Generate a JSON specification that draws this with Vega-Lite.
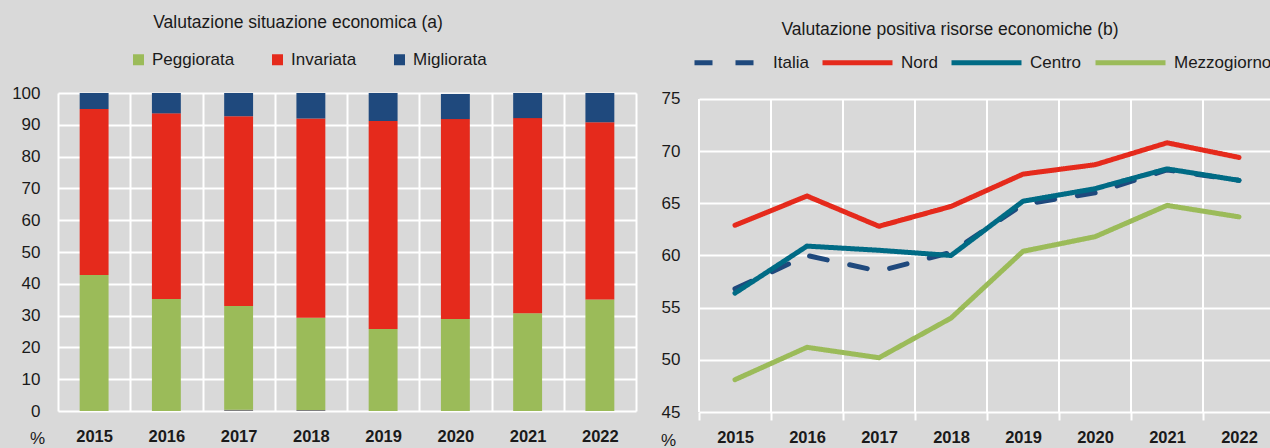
{
  "$schema": "https://vega.github.io/schema/vega-lite/v6.json",
  "background": "#d9d9d9",
  "padding": {"left": 11, "top": 13, "right": 0, "bottom": 0},
  "spacing": 24,
  "resolve": {
    "scale": {"color": "independent", "strokeDash": "independent", "x": "independent", "y": "independent"},
    "legend": {"color": "independent", "strokeDash": "independent"}
  },
  "config": {
    "view": {"stroke": null},
    "font": "Liberation Sans",
    "axis": {
      "labelFont": "Liberation Sans",
      "titleFont": "Liberation Sans",
      "labelColor": "#1a1a1a",
      "titleColor": "#1a1a1a",
      "labelFontSize": 17,
      "titleFontSize": 17,
      "titleFontWeight": "normal",
      "gridColor": "#ffffff",
      "gridWidth": 2,
      "gridOpacity": 1,
      "domain": false,
      "ticks": false
    },
    "legend": {
      "labelFont": "Liberation Sans",
      "labelFontSize": 17,
      "labelColor": "#1a1a1a",
      "labelLimit": 300
    },
    "title": {
      "font": "Liberation Sans",
      "fontSize": 17.5,
      "fontWeight": "normal",
      "color": "#1a1a1a"
    }
  },
  "hconcat": [
    {
      "width": 578,
      "height": 318,
      "title": {"text": "Valutazione situazione economica (a)", "anchor": "middle", "dx": -49, "offset": 20},
      "data": {
        "values": [
          {"anno": "2015", "categoria": "Peggiorata", "valore": 42.8, "ordine": 1},
          {"anno": "2015", "categoria": "Invariata", "valore": 52.2, "ordine": 2},
          {"anno": "2015", "categoria": "Migliorata", "valore": 5.0, "ordine": 3},
          {"anno": "2016", "categoria": "Peggiorata", "valore": 35.2, "ordine": 1},
          {"anno": "2016", "categoria": "Invariata", "valore": 58.4, "ordine": 2},
          {"anno": "2016", "categoria": "Migliorata", "valore": 6.4, "ordine": 3},
          {"anno": "2017", "categoria": "Non indicato", "valore": 0.4, "ordine": 0},
          {"anno": "2017", "categoria": "Peggiorata", "valore": 32.6, "ordine": 1},
          {"anno": "2017", "categoria": "Invariata", "valore": 59.7, "ordine": 2},
          {"anno": "2017", "categoria": "Migliorata", "valore": 7.3, "ordine": 3},
          {"anno": "2018", "categoria": "Non indicato", "valore": 0.3, "ordine": 0},
          {"anno": "2018", "categoria": "Peggiorata", "valore": 29.0, "ordine": 1},
          {"anno": "2018", "categoria": "Invariata", "valore": 62.7, "ordine": 2},
          {"anno": "2018", "categoria": "Migliorata", "valore": 8.0, "ordine": 3},
          {"anno": "2019", "categoria": "Peggiorata", "valore": 25.8, "ordine": 1},
          {"anno": "2019", "categoria": "Invariata", "valore": 65.4, "ordine": 2},
          {"anno": "2019", "categoria": "Migliorata", "valore": 8.8, "ordine": 3},
          {"anno": "2020", "categoria": "Peggiorata", "valore": 28.9, "ordine": 1},
          {"anno": "2020", "categoria": "Invariata", "valore": 62.9, "ordine": 2},
          {"anno": "2020", "categoria": "Migliorata", "valore": 7.9, "ordine": 3},
          {"anno": "2021", "categoria": "Peggiorata", "valore": 30.7, "ordine": 1},
          {"anno": "2021", "categoria": "Invariata", "valore": 61.4, "ordine": 2},
          {"anno": "2021", "categoria": "Migliorata", "valore": 7.9, "ordine": 3},
          {"anno": "2022", "categoria": "Peggiorata", "valore": 35.1, "ordine": 1},
          {"anno": "2022", "categoria": "Invariata", "valore": 55.7, "ordine": 2},
          {"anno": "2022", "categoria": "Migliorata", "valore": 9.2, "ordine": 3}
        ]
      },
      "mark": {"type": "bar", "width": {"band": 0.4}},
      "encoding": {
        "x": {
          "field": "anno",
          "type": "ordinal",
          "scale": {"paddingInner": 0, "paddingOuter": 0},
          "axis": {"title": null, "labelAngle": 0, "labelFontWeight": "bold", "labelFontSize": 16.5, "labelPadding": 17, "grid": true, "tickBand": "extent"}
        },
        "y": {
          "field": "valore",
          "type": "quantitative",
          "stack": "zero",
          "scale": {"domain": [0, 100], "nice": false},
          "axis": {"values": [0, 10, 20, 30, 40, 50, 60, 70, 80, 90, 100], "grid": true, "labelPadding": 18, "title": "%", "titleAngle": 0, "titleAlign": "center", "titleBaseline": "alphabetic", "titleX": -21, "titleY": 350}
        },
        "color": {
          "field": "categoria",
          "type": "nominal",
          "scale": {"domain": ["Non indicato", "Peggiorata", "Invariata", "Migliorata"], "range": ["#7f7f7f", "#9bbb59", "#e52a1c", "#1f497d"]},
          "legend": {"title": null, "values": ["Peggiorata", "Invariata", "Migliorata"], "orient": "none", "legendX": 72, "legendY": -42, "direction": "horizontal", "columns": 3, "symbolType": "square", "symbolSize": 121, "symbolStrokeWidth": 0, "labelOffset": 5, "columnPadding": 34}
        },
        "order": {"field": "ordine", "type": "quantitative"}
      }
    },
    {
      "width": 576,
      "height": 319,
      "title": {"text": "Valutazione positiva risorse economiche (b)", "anchor": "middle", "dx": -37, "offset": -13},
      "layer": [
        {
          "data": {
            "values": [
              {"anno": "2015"}, {"anno": "2016"}, {"anno": "2017"}, {"anno": "2018"},
              {"anno": "2019"}, {"anno": "2020"}, {"anno": "2021"}, {"anno": "2022"}
            ]
          },
          "mark": {"type": "rule", "color": "#ffffff", "strokeWidth": 2},
          "encoding": {
            "x": {
              "field": "anno",
              "type": "ordinal",
              "bandPosition": 0,
              "scale": {"type": "band", "paddingInner": 0, "paddingOuter": 0},
              "axis": {"title": null, "labelAngle": 0, "labelFontWeight": "bold", "labelFontSize": 16.5, "labelPadding": 9, "grid": false, "tickBand": "extent", "ticks": true, "tickColor": "#ffffff", "tickWidth": 2, "tickSize": 8}
            },
            "y": {
              "datum": 45,
              "type": "quantitative",
              "scale": {"domain": [45, 75.575], "nice": false, "zero": false},
              "axis": {"values": [45, 50, 55, 60, 65, 70, 75], "grid": true, "labelPadding": 19, "title": "%", "titleAngle": 0, "titleAlign": "center", "titleBaseline": "alphabetic", "titleX": -31, "titleY": 352}
            },
            "y2": {"datum": 75}
          }
        },
        {
          "data": {
            "values": [
              {"anno": "2015", "serie": "Italia", "valore": 56.8},
              {"anno": "2016", "serie": "Italia", "valore": 60.0},
              {"anno": "2017", "serie": "Italia", "valore": 58.5},
              {"anno": "2018", "serie": "Italia", "valore": 60.3},
              {"anno": "2019", "serie": "Italia", "valore": 64.9},
              {"anno": "2020", "serie": "Italia", "valore": 66.0},
              {"anno": "2021", "serie": "Italia", "valore": 68.2},
              {"anno": "2022", "serie": "Italia", "valore": 67.2},
              {"anno": "2015", "serie": "Nord", "valore": 62.9},
              {"anno": "2016", "serie": "Nord", "valore": 65.7},
              {"anno": "2017", "serie": "Nord", "valore": 62.8},
              {"anno": "2018", "serie": "Nord", "valore": 64.7},
              {"anno": "2019", "serie": "Nord", "valore": 67.8},
              {"anno": "2020", "serie": "Nord", "valore": 68.7},
              {"anno": "2021", "serie": "Nord", "valore": 70.8},
              {"anno": "2022", "serie": "Nord", "valore": 69.4},
              {"anno": "2015", "serie": "Centro", "valore": 56.4},
              {"anno": "2016", "serie": "Centro", "valore": 60.9},
              {"anno": "2017", "serie": "Centro", "valore": 60.5},
              {"anno": "2018", "serie": "Centro", "valore": 60.0},
              {"anno": "2019", "serie": "Centro", "valore": 65.2},
              {"anno": "2020", "serie": "Centro", "valore": 66.4},
              {"anno": "2021", "serie": "Centro", "valore": 68.3},
              {"anno": "2022", "serie": "Centro", "valore": 67.2},
              {"anno": "2015", "serie": "Mezzogiorno", "valore": 48.1},
              {"anno": "2016", "serie": "Mezzogiorno", "valore": 51.2},
              {"anno": "2017", "serie": "Mezzogiorno", "valore": 50.2},
              {"anno": "2018", "serie": "Mezzogiorno", "valore": 54.0},
              {"anno": "2019", "serie": "Mezzogiorno", "valore": 60.4},
              {"anno": "2020", "serie": "Mezzogiorno", "valore": 61.8},
              {"anno": "2021", "serie": "Mezzogiorno", "valore": 64.8},
              {"anno": "2022", "serie": "Mezzogiorno", "valore": 63.7}
            ]
          },
          "mark": {"type": "line", "strokeWidth": 5, "strokeCap": "round", "strokeJoin": "round"},
          "encoding": {
            "x": {
              "field": "anno",
              "type": "ordinal",
              "scale": {"type": "band", "paddingInner": 0, "paddingOuter": 0},
              "axis": {"title": null, "labelAngle": 0, "labelFontWeight": "bold", "labelFontSize": 16.5, "labelPadding": 9, "grid": false, "tickBand": "extent", "ticks": true, "tickColor": "#ffffff", "tickWidth": 2, "tickSize": 8}
            },
            "y": {
              "field": "valore",
              "type": "quantitative",
              "scale": {"domain": [45, 75.575], "nice": false, "zero": false},
              "axis": {"values": [45, 50, 55, 60, 65, 70, 75], "grid": true, "labelPadding": 19, "title": "%", "titleAngle": 0, "titleAlign": "center", "titleBaseline": "alphabetic", "titleX": -31, "titleY": 352}
            },
            "color": {
              "field": "serie",
              "type": "nominal",
              "scale": {"domain": ["Italia", "Nord", "Centro", "Mezzogiorno"], "range": ["#1f497d", "#e52a1c", "#006b85", "#9bbb59"]},
              "legend": {"title": null, "orient": "none", "legendX": -7, "legendY": -68, "direction": "horizontal", "columns": 4, "symbolType": "stroke", "symbolSize": 4900, "symbolStrokeWidth": 5, "labelOffset": 6, "columnPadding": 3}
            },
            "strokeDash": {
              "field": "serie",
              "type": "nominal",
              "scale": {"domain": ["Italia", "Nord", "Centro", "Mezzogiorno"], "range": [[18, 23], [1, 0], [1, 0], [1, 0]]},
              "legend": {"title": null, "orient": "none", "legendX": -7, "legendY": -68, "direction": "horizontal", "columns": 4, "symbolType": "stroke", "symbolSize": 4900, "symbolStrokeWidth": 5, "labelOffset": 6, "columnPadding": 3}
            }
          }
        }
      ]
    }
  ]
}
